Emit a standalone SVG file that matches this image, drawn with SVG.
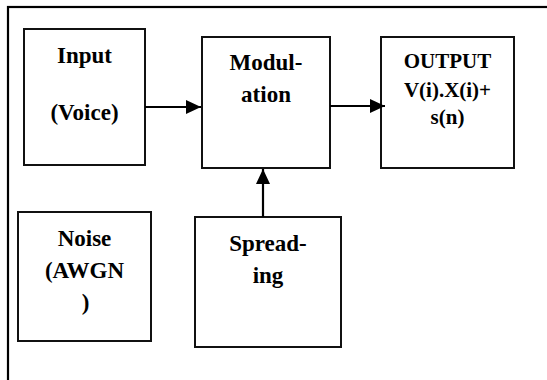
<svg xmlns="http://www.w3.org/2000/svg" width="547" height="380" viewBox="0 0 547 380">
  <style>
    .box { fill: #ffffff; stroke: #111111; stroke-width: 2; }
    .frame { fill: none; stroke: #000000; stroke-width: 2.2; }
    .wire { fill: none; stroke: #000000; stroke-width: 2.2; }
  </style>
  <defs>
    <marker id="arrow" viewBox="0 0 15 14" refX="15" refY="7" markerWidth="15" markerHeight="14" markerUnits="userSpaceOnUse" orient="auto">
      <path d="M0,0 L15,7 L0,14 Z" fill="#000000"/>
    </marker>
  </defs>

  <rect width="547" height="380" fill="#ffffff"/>

  <!-- outer frame -->
  <rect class="frame" x="8" y="7" width="570" height="420"/>

  <g id="input">
    <rect class="box" x="24" y="29" width="121" height="136"/>
    <text x="84.5" y="63" font-family="Liberation Serif" font-weight="bold" font-size="23" text-anchor="middle">Input</text>
    <text x="84.5" y="120" font-family="Liberation Serif" font-weight="bold" font-size="23" text-anchor="middle">(Voice)</text>
  </g>

  <g id="modulation">
    <rect class="box" x="202" y="37" width="128" height="131"/>
    <text x="266" y="70" font-family="Liberation Serif" font-weight="bold" font-size="23" text-anchor="middle">Modul-</text>
    <text x="266" y="102" font-family="Liberation Serif" font-weight="bold" font-size="23" text-anchor="middle">ation</text>
  </g>

  <g id="output">
    <rect class="box" x="381" y="37" width="133" height="131"/>
    <text x="447.5" y="68" font-family="Liberation Serif" font-weight="bold" font-size="21" text-anchor="middle">OUTPUT</text>
    <text x="447.5" y="97" font-family="Liberation Serif" font-weight="bold" font-size="21" text-anchor="middle">V(i).X(i)+</text>
    <text x="447.5" y="124" font-family="Liberation Serif" font-weight="bold" font-size="21" text-anchor="middle">s(n)</text>
  </g>

  <g id="noise">
    <rect class="box" x="18" y="212" width="133" height="129"/>
    <text x="84.5" y="246" font-family="Liberation Serif" font-weight="bold" font-size="23" text-anchor="middle">Noise</text>
    <text x="84.5" y="278" font-family="Liberation Serif" font-weight="bold" font-size="23" text-anchor="middle">(AWGN</text>
    <text x="85.5" y="310" font-family="Liberation Serif" font-weight="bold" font-size="23" text-anchor="middle">)</text>
  </g>

  <g id="spreading">
    <rect class="box" x="195" y="217" width="146" height="130"/>
    <text x="268" y="251" font-family="Liberation Serif" font-weight="bold" font-size="23" text-anchor="middle">Spread-</text>
    <text x="268" y="283" font-family="Liberation Serif" font-weight="bold" font-size="23" text-anchor="middle">ing</text>
  </g>

  <g id="connectors">
    <line class="wire" x1="145" y1="107" x2="201" y2="107" marker-end="url(#arrow)"/>
    <line class="wire" x1="330" y1="106" x2="385" y2="106" marker-end="url(#arrow)"/>
    <line class="wire" x1="263" y1="217" x2="263" y2="169" marker-end="url(#arrow)"/>
  </g>
</svg>
